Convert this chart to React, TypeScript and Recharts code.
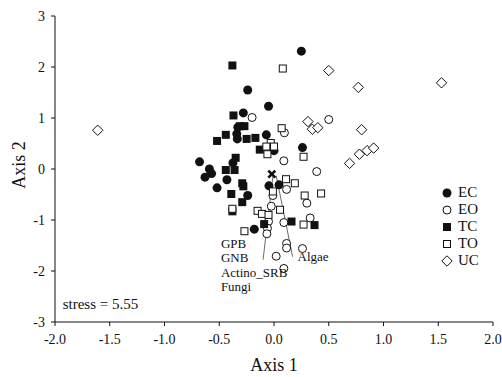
import { ScatterChart, Scatter, XAxis, YAxis, ReferenceLine, Label } from 'recharts';

type Pt = { x: number; y: number };
const toPts = (rows: number[][]): Pt[] => rows.map(([x, y]) => ({ x, y }));

// NMDS scores
const ecPoints = toPts([
  [0.25, 2.31], [-0.24, 1.55], [-0.05, 1.23], [-0.28, 1.1], [-0.33, 0.82], [-0.34, 0.69],
  [-0.335, 0.59], [-0.07, 0.67], [0.26, 0.42], [0.0, 0.36], [-0.68, 0.14], [-0.59, 0.0],
  [-0.63, -0.16], [-0.57, -0.09], [-0.43, -0.21], [-0.52, -0.37], [-0.375, 0.12],
  [-0.046, -0.33], [0.046, -0.31], [-0.24, -0.52], [-0.18, -1.18],
]);
const eoPoints = toPts([
  [-0.2, 1.01], [0.5, 0.97], [0.095, 0.71], [0.09, 0.16], [0.39, -0.05], [0.115, -0.4],
  [-0.01, -0.52], [-0.025, -0.73], [0.3, -0.67], [0.33, -0.96], [0.09, -1.05], [-0.05, -1.03],
  [-0.06, -1.16], [-0.065, -1.27], [0.115, -1.46], [0.115, -1.55], [0.02, -1.71],
  [0.09, -1.95], [0.26, -1.56],
]);
const tcPoints = toPts([
  [-0.38, 2.03], [-0.37, 1.05], [-0.31, 0.84], [-0.27, 0.84], [-0.52, 0.55], [-0.44, 0.67],
  [-0.25, 0.59], [-0.17, 0.61], [-0.13, 0.38], [-0.35, 0.22], [-0.44, -0.02], [-0.36, -0.02],
  [-0.29, -0.28], [-0.28, -0.34], [-0.39, -0.49], [-0.29, -0.65], [-0.38, -0.83],
  [-0.09, -1.08], [0.16, -1.03], [0.37, -1.1],
]);
const toPoints = toPts([
  [0.08, 1.97], [0.07, 0.8], [-0.03, 0.51], [-0.07, 0.44], [0.0, 0.44], [-0.06, 0.29],
  [0.27, 0.24], [0.11, -0.2], [0.19, -0.28], [0.28, -0.52], [0.43, -0.48], [-0.01, -0.44],
  [0.055, -0.8], [-0.15, -0.82], [-0.11, -0.88], [-0.05, -0.9], [-0.38, -0.78],
  [-0.27, -1.22], [0.27, -1.09],
]);
const ucPoints = toPts([
  [-1.61, 0.76], [0.5, 1.93], [0.77, 1.6], [1.53, 1.69], [0.31, 0.93], [0.35, 0.78],
  [0.4, 0.81], [0.8, 0.77], [0.69, 0.11], [0.78, 0.29], [0.85, 0.36], [0.91, 0.41],
]);
const centroid = toPts([[-0.02, -0.1]]);

const vectorLines = [
  { from: { x: -0.01, y: -0.15 }, to: { x: -0.1, y: -1.78 } },
  { from: { x: 0.02, y: -0.13 }, to: { x: 0.17, y: -1.72 } },
];
const vectorLabels = [
  { x: -0.485, y: -1.46, label: 'GPB' },
  { x: -0.485, y: -1.73, label: 'GNB' },
  { x: -0.485, y: -2.02, label: 'Actino_SRB' },
  { x: -0.485, y: -2.3, label: 'Fungi' },
  { x: 0.215, y: -1.72, label: 'Algae' },
];
const stressNote = [{ x: -1.93, y: -2.65, label: 'stress = 5.55' }];

const xTicks = [-2, -1.5, -1, -0.5, 0, 0.5, 1, 1.5, 2];
const yTicks = [-3, -2, -1, 0, 1, 2, 3];

type Kind = 'dot' | 'ring' | 'block' | 'box' | 'diamond';
const groups: { name: string; kind: Kind; data: Pt[] }[] = [
  { name: 'EC', kind: 'dot', data: ecPoints },
  { name: 'EO', kind: 'ring', data: eoPoints },
  { name: 'TC', kind: 'block', data: tcPoints },
  { name: 'TO', kind: 'box', data: toPoints },
  { name: 'UC', kind: 'diamond', data: ucPoints },
];

const FONT = '"Liberation Serif", "Times New Roman", serif';
const INK = '#111';

function marker(kind: Kind, cx: number, cy: number) {
  switch (kind) {
    case 'dot':
      return <circle cx={cx} cy={cy} r={4.5} fill={INK} />;
    case 'ring':
      return <circle cx={cx} cy={cy} r={4} fill="#fff" stroke={INK} strokeWidth={1} />;
    case 'block':
      return <rect x={cx - 4} y={cy - 4} width={8} height={8} fill={INK} />;
    case 'box':
      return <rect x={cx - 3.5} y={cy - 3.5} width={7} height={7} fill="#fff" stroke={INK} strokeWidth={1} />;
    default:
      return (
        <polygon
          points={`${cx},${cy - 5.2} ${cx + 5.2},${cy} ${cx},${cy + 5.2} ${cx - 5.2},${cy}`}
          fill="#fff"
          stroke={INK}
          strokeWidth={1}
        />
      );
  }
}

const textShape = (size: number) => (props: any) => (
  <text
    x={props.cx}
    y={props.cy}
    fontSize={size}
    fontFamily={FONT}
    fill={INK}
    dominantBaseline="central"
  >
    {props.payload.label}
  </text>
);

const crossShape = (props: any) => {
  const { cx, cy } = props;
  return (
    <g stroke={INK} strokeWidth={2.6}>
      <line x1={cx - 3.5} y1={cy - 3.5} x2={cx + 3.5} y2={cy + 3.5} />
      <line x1={cx - 3.5} y1={cy + 3.5} x2={cx + 3.5} y2={cy - 3.5} />
    </g>
  );
};

export default function App() {
  const tick = { fontSize: 14, fill: INK, fontFamily: FONT };
  return (
    <div style={{ position: 'absolute', left: 0, top: 0, width: 502, height: 377, background: '#fff', fontFamily: FONT }}>
      <ScatterChart width={502} height={377} margin={{ top: 16, right: 9, left: 15, bottom: 0 }}>
        <XAxis
          type="number"
          dataKey="x"
          domain={[-2, 2]}
          ticks={xTicks}
          tickFormatter={(v: number) => v.toFixed(1)}
          tick={tick}
          tickSize={4}
          tickMargin={8}
          height={55}
          stroke={INK}
          allowDataOverflow
        >
          <Label
            content={(p: any) => (
              <text
                x={p.viewBox.x + p.viewBox.width / 2}
                y={p.viewBox.y + 49}
                textAnchor="middle"
                fontSize={18}
                fontFamily={FONT}
                fill={INK}
              >
                Axis 1
              </text>
            )}
          />
        </XAxis>
        <YAxis
          type="number"
          dataKey="y"
          domain={[-3, 3]}
          ticks={yTicks}
          tick={tick}
          tickSize={4}
          tickMargin={6}
          width={40}
          stroke={INK}
          allowDataOverflow
        >
          <Label
            content={(p: any) => (
              <text
                transform={`translate(${p.viewBox.x + 4}, ${p.viewBox.y + p.viewBox.height / 2 - 4}) rotate(-90)`}
                textAnchor="middle"
                dominantBaseline="central"
                fontSize={18}
                fontFamily={FONT}
                fill={INK}
              >
                Axis 2
              </text>
            )}
          />
        </YAxis>
        {vectorLines.map((v, i) => (
          <ReferenceLine key={i} segment={[v.from, v.to]} stroke="#444" strokeWidth={0.8} ifOverflow="visible" />
        ))}
        {groups.map((g) => (
          <Scatter
            key={g.name}
            name={g.name}
            data={g.data}
            isAnimationActive={false}
            shape={(p: any) => marker(g.kind, p.cx, p.cy)}
          />
        ))}
        <Scatter data={centroid} isAnimationActive={false} shape={crossShape} />
        <Scatter data={vectorLabels} isAnimationActive={false} shape={textShape(13)} />
        <Scatter data={stressNote} isAnimationActive={false} shape={textShape(15)} />
      </ScatterChart>
      <div style={{ position: 'absolute', left: 440, top: 184 }}>
        {groups.map((g) => (
          <div key={g.name} style={{ display: 'flex', alignItems: 'center', height: 17 }}>
            <svg width={14} height={14} style={{ marginRight: 4 }}>
              {marker(g.kind, 7, 7)}
            </svg>
            <span style={{ fontSize: 15, color: INK, lineHeight: '17px' }}>{g.name}</span>
          </div>
        ))}
      </div>
    </div>
  );
}
